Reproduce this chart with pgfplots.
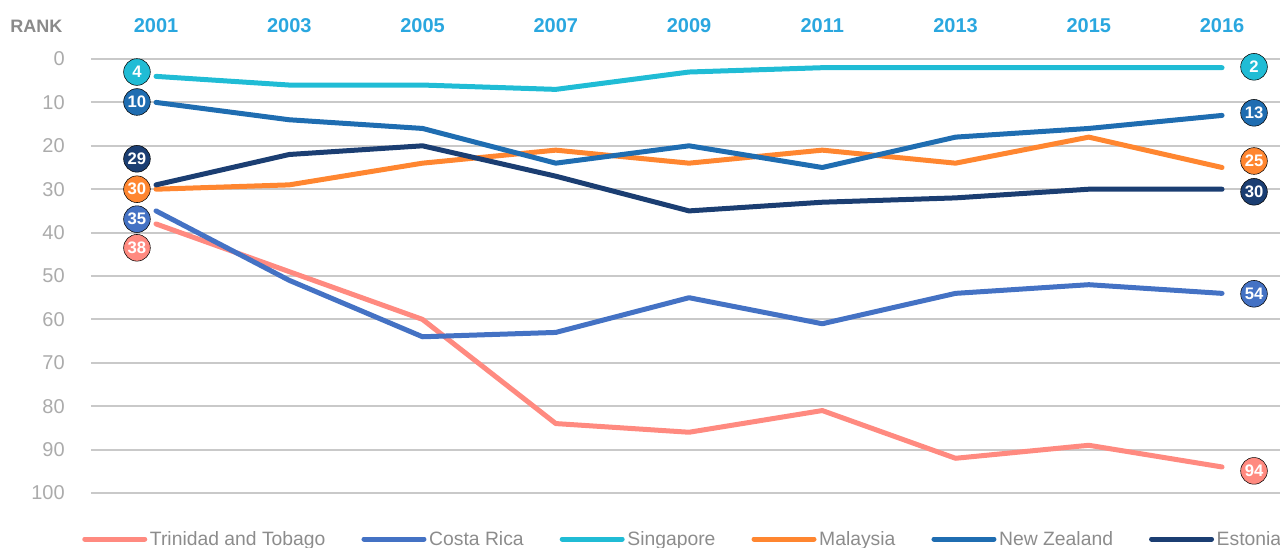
\documentclass[border=0pt]{standalone}
\usepackage{pgfplots}
\pgfplotsset{compat=1.18}
\usepackage{fontspec}
\setmainfont{Liberation Sans}
\setsansfont{Liberation Sans}
\definecolor{ctt}{HTML}{FF8A80}
\definecolor{ccr}{HTML}{4472C4}
\definecolor{csg}{HTML}{20BCD5}
\definecolor{cmy}{HTML}{FF8630}
\definecolor{cnz}{HTML}{1F6DB1}
\definecolor{cee}{HTML}{1B3E72}
\definecolor{cyear}{HTML}{2AA7DF}
\definecolor{cgrid}{HTML}{C9C9C9}
\definecolor{ctick}{HTML}{ABABAB}
\definecolor{clegend}{HTML}{8C8C8C}
\definecolor{crank}{HTML}{8A8A8A}
\pgfplotsset{
  serie/.style={line width=3.75pt, line join=round, line cap=round},
  bub/.style={only marks, mark=*, mark size=10pt, mark options={draw=none, fill=#1},
    nodes near coords, point meta=explicit symbolic,
    nodes near coords style={anchor=center, text=white, inner sep=0pt, font=\bfseries\fontsize{12.5}{12.5}\selectfont},
    forget plot},
}
\begin{document}
\begin{tikzpicture}
\begin{axis}[
  scale only axis, width=891.75pt, height=325.5pt,
  xmin=-0.488, xmax=8.435, ymin=0, ymax=100, y dir=reverse,
  xtick={0,...,8}, xticklabels={2001,2003,2005,2007,2009,2011,2013,2015,2016},
  xticklabel pos=upper,
  ytick={0,10,...,100},
  /pgf/number format/assume math mode=true,
  ymajorgrids, grid style={cgrid, line width=1.5pt},
  axis line style={draw=none}, major tick length=0pt,
  xticklabel style={font=\bfseries\fontsize{15}{15}\selectfont, text=cyear, anchor=base, inner sep=0pt, yshift=20.25pt},
  yticklabel style={font=\fontsize{15}{15}\selectfont, text=ctick, anchor=east, inner sep=0pt, xshift=-19.5pt},
  clip=false,
  legend columns=6,
  legend style={draw=none, fill=none, at={(axis description cs:0,0)}, anchor=west,
    xshift=-6.75pt, yshift=-34.5pt, inner sep=0pt,
    font=\fontsize{14.5}{14.5}\selectfont, text=clegend,
    /tikz/every even column/.append style={column sep=25pt}},
  legend cell align=left,
  legend image code/.code={\draw[#1, line width=3.75pt, line cap=round] (0pt,0pt) -- (45pt,0pt);},
]
\addplot[ctt, serie] coordinates {(0,38)(1,49)(2,60)(3,84)(4,86)(5,81)(6,92)(7,89)(8,94)};
\addlegendentry{Trinidad and Tobago}
\addplot[ccr, serie] coordinates {(0,35)(1,51)(2,64)(3,63)(4,55)(5,61)(6,54)(7,52)(8,54)};
\addlegendentry{Costa Rica}
\addplot[csg, serie] coordinates {(0,4)(1,6)(2,6)(3,7)(4,3)(5,2)(6,2)(7,2)(8,2)};
\addlegendentry{Singapore}
\addplot[cmy, serie] coordinates {(0,30)(1,29)(2,24)(3,21)(4,24)(5,21)(6,24)(7,18)(8,25)};
\addlegendentry{Malaysia}
\addplot[cnz, serie] coordinates {(0,10)(1,14)(2,16)(3,24)(4,20)(5,25)(6,18)(7,16)(8,13)};
\addlegendentry{New Zealand}
\addplot[cee, serie] coordinates {(0,29)(1,22)(2,20)(3,27)(4,35)(5,33)(6,32)(7,30)(8,30)};
\addlegendentry{Estonia}

\addplot[bub=ctt] coordinates {(-0.143,43.5)[38] (8.24,94.9)[94]};
\addplot[bub=ccr] coordinates {(-0.143,36.9)[35] (8.24,54.1)[54]};
\addplot[bub=csg] coordinates {(-0.143,3.0)[4] (8.24,1.8)[2]};
\addplot[bub=cmy] coordinates {(-0.143,30.0)[30] (8.24,23.5)[25]};
\addplot[bub=cnz] coordinates {(-0.143,9.9)[10] (8.24,12.4)[13]};
\addplot[bub=cee] coordinates {(-0.143,23.0)[29] (8.24,30.6)[30]};

\node[anchor=base west, inner sep=0pt, xshift=-60.75pt, yshift=20.25pt, text=crank, font=\bfseries\fontsize{13.5}{13.5}\selectfont] at (axis cs:-0.488,0) {RANK};
\coordinate (BL) at (axis cs:-0.488,100);
\coordinate (TR) at (axis cs:8.435,0);
\end{axis}
\pgfresetboundingbox
\path[use as bounding box] ([xshift=-68.25pt,yshift=-40.5pt]BL) rectangle ([yshift=44.25pt]TR);
\end{tikzpicture}
\end{document}
